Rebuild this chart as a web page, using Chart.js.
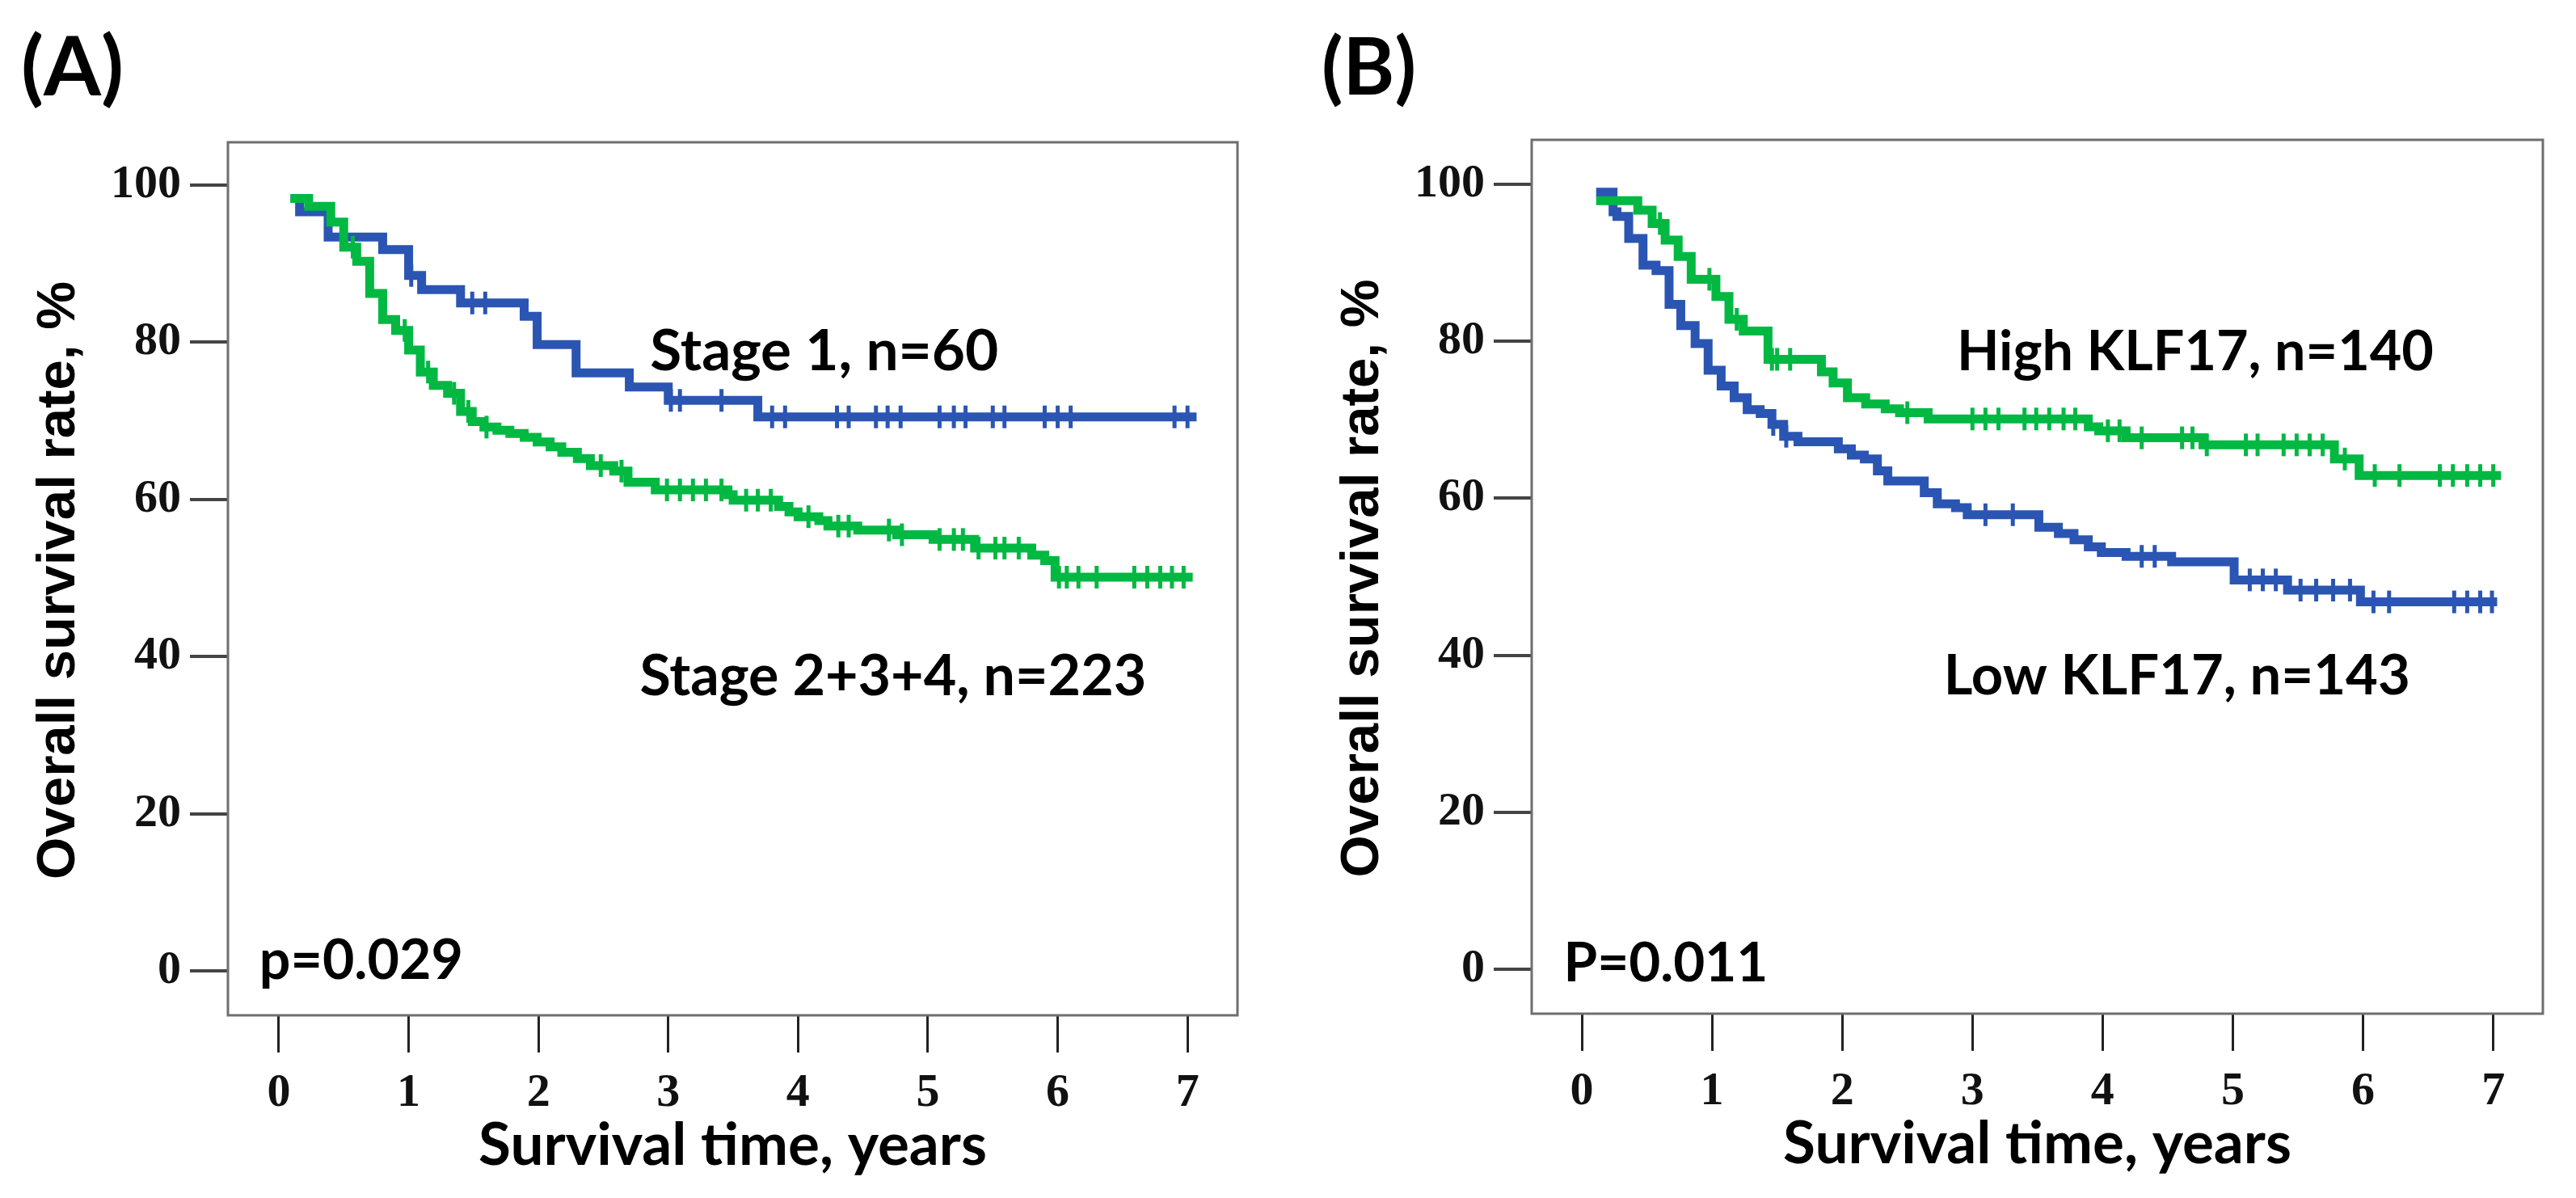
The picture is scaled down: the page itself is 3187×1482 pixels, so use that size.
<!DOCTYPE html>
<html>
<head>
<meta charset="utf-8">
<script src="https://cdn.jsdelivr.net/npm/chart.js"></script>
<style>
  html, body { margin: 0; padding: 0; background: #fff; }
  body { width: 3187px; height: 1482px; position: relative; overflow: hidden; }
  canvas { position: absolute; top: 0; }
  #chartA { left: 0; }
  #chartB { left: 1590px; }
</style>
</head>
<body>
<canvas id="chartA" width="1590" height="1482"></canvas>
<canvas id="chartB" width="1597" height="1482"></canvas>
<script>
// axis ticks
const xTicks = [0, 1, 2, 3, 4, 5, 6, 7];
const yTicks = [0, 20, 40, 60, 80, 100];

// (A) Stage 1, n=60  (time in years, survival %)
const stage1Time = [0.09, 0.16, 0.38, 0.80, 1.00, 1.10, 1.40, 1.89, 1.99, 2.29, 2.70, 3.00, 3.69, 7.07];
const stage1Surv = [98.3, 96.6, 93.4, 91.8, 88.5, 86.7, 85.0, 83.3, 79.7, 76.1, 74.3, 72.6, 70.5, 70.5];
const stage1Censor = [1.02, 1.49, 1.59, 3.02, 3.09, 3.41, 3.80, 3.90, 4.30, 4.39, 4.60, 4.69, 4.79,
  5.09, 5.20, 5.29, 5.50, 5.59, 5.90, 6.00, 6.10, 6.90, 7.00];

// (A) Stage 2+3+4, n=223
const stage234Time = [0.09, 0.23, 0.40, 0.50, 0.60, 0.70, 0.80, 0.90, 1.00, 1.09,
  1.19, 1.30, 1.40, 1.49, 1.58, 1.68, 1.78, 1.89, 1.99, 2.09,
  2.18, 2.30, 2.40, 2.58, 2.69, 2.90, 3.46, 3.50, 3.85, 3.93,
  4.00, 4.16, 4.23, 4.46, 4.76, 5.04, 5.36, 5.80, 5.90, 5.98, 7.04];
const stage234Surv = [98.3, 97.3, 95.3, 92.1, 90.3, 86.2, 82.9, 81.5, 79.0, 76.2,
  74.5, 73.5, 71.2, 69.9, 69.2, 68.8, 68.4, 67.9, 67.3, 66.7,
  66.0, 65.2, 64.3, 63.6, 62.2, 61.2, 60.6, 59.9, 59.1, 58.4,
  57.8, 57.3, 56.6, 56.1, 55.5, 54.9, 53.8, 52.9, 52.2, 50.1, 50.1];
const stage234Censor = [0.57, 0.97, 1.15, 1.35, 1.46, 1.60, 2.48, 2.64, 2.99, 3.09, 3.19, 3.29, 3.41,
  3.60, 3.69, 3.79, 4.08, 4.31, 4.39, 4.70, 4.80, 5.09, 5.20, 5.27, 5.39, 5.52, 5.59, 5.70,
  6.01, 6.07, 6.16, 6.30, 6.59, 6.69, 6.79, 6.88, 6.97];

// (B) Low KLF17, n=143
const lowTime = [0.11, 0.24, 0.27, 0.36, 0.47, 0.57, 0.67, 0.76, 0.87, 0.97,
  1.07, 1.17, 1.27, 1.37, 1.46, 1.55, 1.66, 1.97, 2.07, 2.17,
  2.27, 2.35, 2.63, 2.73, 2.87, 2.96, 3.51, 3.66, 3.78, 3.89,
  3.99, 4.18, 4.53, 5.01, 5.42, 5.98, 7.03];
const lowSurv = [99.0, 96.5, 95.9, 93.1, 89.7, 89.0, 84.7, 82.0, 79.7, 76.3,
  74.3, 72.8, 71.3, 70.8, 69.4, 67.9, 67.2, 66.3, 65.5, 65.0,
  63.5, 62.2, 60.7, 59.3, 58.8, 57.9, 56.3, 55.5, 54.7, 53.8,
  53.1, 52.6, 51.9, 49.6, 48.3, 46.8, 46.8];
const lowCensor = [1.47, 1.57, 3.10, 3.31, 4.30, 4.40, 5.13, 5.23, 5.33, 5.52, 5.64, 5.77, 5.90,
  6.08, 6.20, 6.70, 6.80, 6.90, 6.99];

// (B) High KLF17, n=140
const highTime = [0.11, 0.43, 0.54, 0.64, 0.74, 0.84, 1.03, 1.13, 1.24, 1.43,
  1.84, 1.93, 2.04, 2.18, 2.33, 2.44, 2.66, 3.89, 3.97, 4.18,
  4.77, 5.78, 5.97, 7.06];
const highSurv = [97.9, 96.7, 95.0, 92.9, 90.8, 87.9, 85.7, 82.8, 81.3, 77.7,
  76.1, 74.7, 72.8, 72.0, 71.4, 70.9, 70.1, 69.1, 68.6, 67.7,
  66.8, 65.0, 62.9, 62.9];
const highCensor = [0.60, 0.98, 1.19, 1.46, 1.50, 1.60, 2.50, 3.00, 3.10, 3.20, 3.40, 3.49, 3.59,
  3.70, 3.79, 4.04, 4.13, 4.30, 4.61, 4.69, 4.80, 5.10, 5.19, 5.39, 5.49, 5.59, 5.69, 5.86,
  6.09, 6.28, 6.59, 6.69, 6.80, 6.90, 7.00];

const BLUE = "#2b55b3";
const GREEN = "#00b842";
const TEXT_FONT = "Lato";
const TICK_FONT = "Liberation Serif";
const YTITLE_FONT = "Liberation Sans";

const measureCtx = document.createElement("canvas").getContext("2d");
function fitSize(text, family, width) {
  measureCtx.font = "bold 100px " + family;
  return 100 * width / measureCtx.measureText(text).width;
}

// survival level in force at time t (for placing censor marks on the curve)
function levelAt(times, surv, t) {
  let v = surv[0];
  for (let i = 0; i < times.length; i++) {
    if (times[i] <= t) v = surv[i];
  }
  return v;
}

function curve(times, surv, color) {
  return {
    data: times.map((t, i) => ({ x: t, y: surv[i] })),
    showLine: true,
    stepped: "before",
    borderColor: color,
    borderWidth: 11,
    borderJoinStyle: "miter",
    pointRadius: 0,
    fill: false,
  };
}

function censors(times, surv, cens, color) {
  return {
    data: cens.map(t => ({ x: t, y: levelAt(times, surv, t) })),
    showLine: false,
    pointStyle: "line",
    rotation: 90,
    pointRadius: 14,
    borderColor: color,
    pointBorderWidth: 5,
  };
}

const annotate = {
  id: "annotate",
  beforeDatasetsDraw(chart) {
    const { ctx, chartArea: a } = chart;
    ctx.save();
    ctx.strokeStyle = "#6e6e6e";
    ctx.lineWidth = 3;
    ctx.strokeRect(a.left, a.top, a.right - a.left, a.bottom - a.top);
    ctx.restore();
  },
  afterDraw(chart, args, opts) {
    const { ctx, chartArea: a, scales: { x, y } } = chart;
    ctx.save();
    ctx.fillStyle = "#000";
    ctx.textBaseline = "alphabetic";
    ctx.textAlign = "left";

    // panel letter
    ctx.font = "bold " + fitSize(opts.letter, TEXT_FONT, opts.letterWidth) + "px " + TEXT_FONT;
    ctx.fillText(opts.letter, opts.letterX, opts.letterY);

    // group labels and p value, anchored in data units
    opts.notes.forEach(n => {
      ctx.font = "bold " + fitSize(n.text, TEXT_FONT, n.width) + "px " + TEXT_FONT;
      ctx.fillText(n.text, x.getPixelForValue(n.t), y.getPixelForValue(n.v));
    });

    // x title
    ctx.textAlign = "center";
    ctx.font = "bold " + fitSize(opts.xTitle, TEXT_FONT, 629) + "px " + TEXT_FONT;
    ctx.fillText(opts.xTitle, (a.left + a.right) / 2, a.bottom + 185);

    // y title
    ctx.font = "bold " + fitSize(opts.yTitle, YTITLE_FONT, 740) + "px " + YTITLE_FONT;
    ctx.translate(a.left - 190, (a.top + a.bottom) / 2 + 2);
    ctx.rotate(-Math.PI / 2);
    ctx.fillText(opts.yTitle, 0, 0);
    ctx.restore();
  },
};

function makePanel(id, p) {
  new Chart(document.getElementById(id), {
    type: "scatter",
    data: { datasets: p.datasets },
    options: {
      responsive: false,
      devicePixelRatio: 1,
      animation: false,
      layout: { padding: { top: p.padTop, right: p.padRight, left: 0, bottom: 0 } },
      scales: {
        x: {
          type: "linear",
          min: p.xMin,
          max: p.xMax,
          afterBuildTicks: s => { s.ticks = xTicks.map(v => ({ value: v })); },
          afterFit: s => { s.height = p.xHeight; },
          border: { display: false },
          grid: { drawOnChartArea: false, drawTicks: true, tickLength: 46, lineWidth: 3, color: "#222" },
          ticks: {
            padding: 16,
            color: "#111",
            maxRotation: 0,
            font: { family: TICK_FONT, weight: "bold", size: 58 },
          },
        },
        y: {
          type: "linear",
          min: p.yMin,
          max: p.yMax,
          afterBuildTicks: s => { s.ticks = yTicks.map(v => ({ value: v })); },
          afterFit: s => { s.width = p.yWidth; },
          border: { display: false },
          grid: { drawOnChartArea: false, drawTicks: true, tickLength: 47, lineWidth: 4, color: "#444" },
          ticks: {
            padding: 11,
            color: "#111",
            font: { family: TICK_FONT, weight: "bold", size: 58 },
          },
        },
      },
      plugins: {
        legend: { display: false },
        tooltip: { enabled: false },
        annotate: p.text,
      },
    },
    plugins: [annotate],
  });
}

makePanel("chartA", {
  xMin: -0.392, xMax: 7.385, yMin: -5.66, yMax: 105.45,
  yWidth: 282, xHeight: 226, padTop: 176, padRight: 59,
  datasets: [
    censors(stage234Time, stage234Surv, stage234Censor, GREEN),
    curve(stage234Time, stage234Surv, GREEN),
    censors(stage1Time, stage1Surv, stage1Censor, BLUE),
    curve(stage1Time, stage1Surv, BLUE),
  ],
  text: {
    letter: "(A)", letterX: 26, letterY: 118, letterWidth: 127,
    xTitle: "Survival time, years",
    yTitle: "Overall survival rate, %",
    notes: [
      { text: "Stage 1, n=60", t: 2.86, v: 76.4, width: 431 },
      { text: "Stage 2+3+4, n=223", t: 2.78, v: 35.05, width: 627 },
      { text: "p=0.029", t: -0.15, v: -1.0, width: 252 },
    ],
  },
});

makePanel("chartB", {
  xMin: -0.385, xMax: 7.381, yMin: -5.66, yMax: 105.66,
  yWidth: 305, xHeight: 228, padTop: 173, padRight: 41,
  datasets: [
    censors(highTime, highSurv, highCensor, GREEN),
    curve(highTime, highSurv, GREEN),
    censors(lowTime, lowSurv, lowCensor, BLUE),
    curve(lowTime, lowSurv, BLUE),
  ],
  text: {
    letter: "(B)", letterX: 45, letterY: 117, letterWidth: 117,
    xTitle: "Survival time, years",
    yTitle: "Overall survival rate, %",
    notes: [
      { text: "High KLF17, n=140", t: 2.88, v: 76.3, width: 590 },
      { text: "Low KLF17, n=143", t: 2.78, v: 35.0, width: 577 },
      { text: "P=0.011", t: -0.14, v: -1.5, width: 253 },
    ],
  },
});
</script>
</body>
</html>
